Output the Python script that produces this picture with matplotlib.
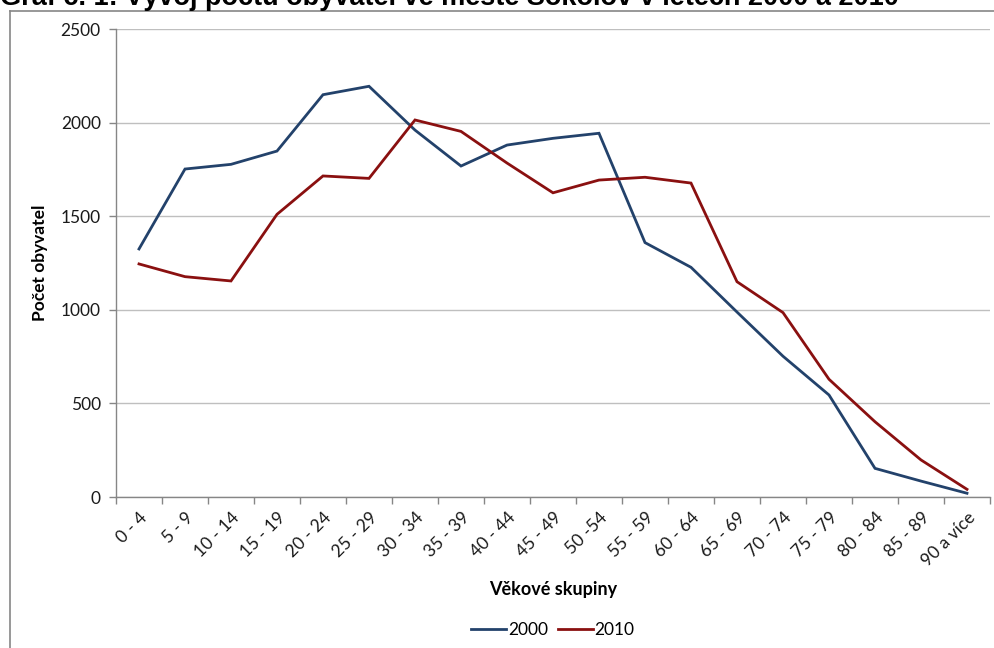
import matplotlib
matplotlib.use("Agg")
import matplotlib.pyplot as plt
from matplotlib.lines import Line2D

plt.rcParams['font.family'] = ['Lato', 'DejaVu Sans']

categories = ["0 - 4", "5 - 9", "10 - 14", "15 - 19", "20 - 24", "25 - 29", "30 - 34",
              "35 - 39", "40 - 44", "45 - 49", "50 -54", "55 - 59", "60 - 64", "65 - 69",
              "70 - 74", "75 - 79", "80 - 84", "85 - 89", "90 a více"]
y2000 = [1325, 1752, 1777, 1848, 2149, 2194, 1960, 1768, 1880, 1916, 1943, 1359,
         1227, 988, 752, 545, 153, 85, 20]
y2010 = [1245, 1177, 1154, 1510, 1715, 1702, 2014, 1953, 1784, 1625, 1693, 1708,
         1677, 1150, 985, 629, 402, 198, 41]
series_labels = ["2000", "2010"]
yticks = [0, 500, 1000, 1500, 2000, 2500]

W, H = 994, 648
fig = plt.figure(figsize=(W / 100, H / 100), dpi=100)

# chart area frame (left + top visible)
fig.add_artist(Line2D([10 / W, 10 / W], [0, 1 - 11 / H], transform=fig.transFigure,
                      color='#868686', lw=1.2))
fig.add_artist(Line2D([10 / W, 1], [1 - 11 / H, 1 - 11 / H], transform=fig.transFigure,
                      color='#868686', lw=1.2))

# partially cropped title
fig.text(0, 1 - 5 / H, "Graf č. 1: Vývoj počtu obyvatel ve městě Sokolov v letech 2000 a 2010",
         fontsize=19.5, fontweight='bold', family=['Liberation Sans', 'DejaVu Sans'],
         ha='left', va='baseline', color='black')

ax = fig.add_axes([116 / W, 1 - 497 / H, (990 - 116) / W, (497 - 29) / H])
x = list(range(len(categories)))
c2000 = '#23426b'
c2010 = '#8a1010'
ax.plot(x, y2000, color=c2000, lw=2.0, solid_joinstyle='miter', label=series_labels[0])
ax.plot(x, y2010, color=c2010, lw=2.0, solid_joinstyle='miter', label=series_labels[1])

ax.set_xlim(-0.5, len(categories) - 0.5)
ax.set_ylim(0, 2500)
ax.set_yticks(yticks)
ax.set_yticklabels([str(v) for v in yticks], fontsize=12.5, color='#1a1a1a')
ax.yaxis.grid(True, color='#bfbfbf', lw=1.0)
ax.set_axisbelow(True)

ax.set_xticks(x)
ax.set_xticklabels(categories, rotation=45, ha='right', rotation_mode='anchor',
                   fontsize=12.5, color='#1a1a1a')
ax.tick_params(axis='x', which='major', length=0, pad=9)
ax.set_xticks([i - 0.5 for i in range(len(categories) + 1)], minor=True)
ax.tick_params(axis='x', which='minor', length=5, color='#868686', width=1)
ax.tick_params(axis='y', length=5, color='#868686', width=1, pad=6)

for s in ['top', 'right']:
    ax.spines[s].set_visible(False)
for s in ['left', 'bottom']:
    ax.spines[s].set_color('#868686')
    ax.spines[s].set_linewidth(1.0)

ax.set_ylabel("Počet obyvatel", fontsize=12.5, fontweight='bold')
ax.yaxis.set_label_coords((40 - 116) / (990 - 116), 0.5)
ax.set_xlabel("Věkové skupiny", fontsize=13, fontweight='bold')
ax.xaxis.set_label_coords(0.5, -(590 - 497) / (497 - 29))
ax.xaxis.label.set_va('center')
ax.yaxis.label.set_va('center')

ax.legend(loc='center', bbox_to_anchor=(553 / W, 1 - 630 / H), bbox_transform=fig.transFigure,
          ncol=2, frameon=False, fontsize=12.5, handlelength=2.0, handletextpad=0.1,
          columnspacing=0.6)

fig.savefig("out.png", dpi=100)
